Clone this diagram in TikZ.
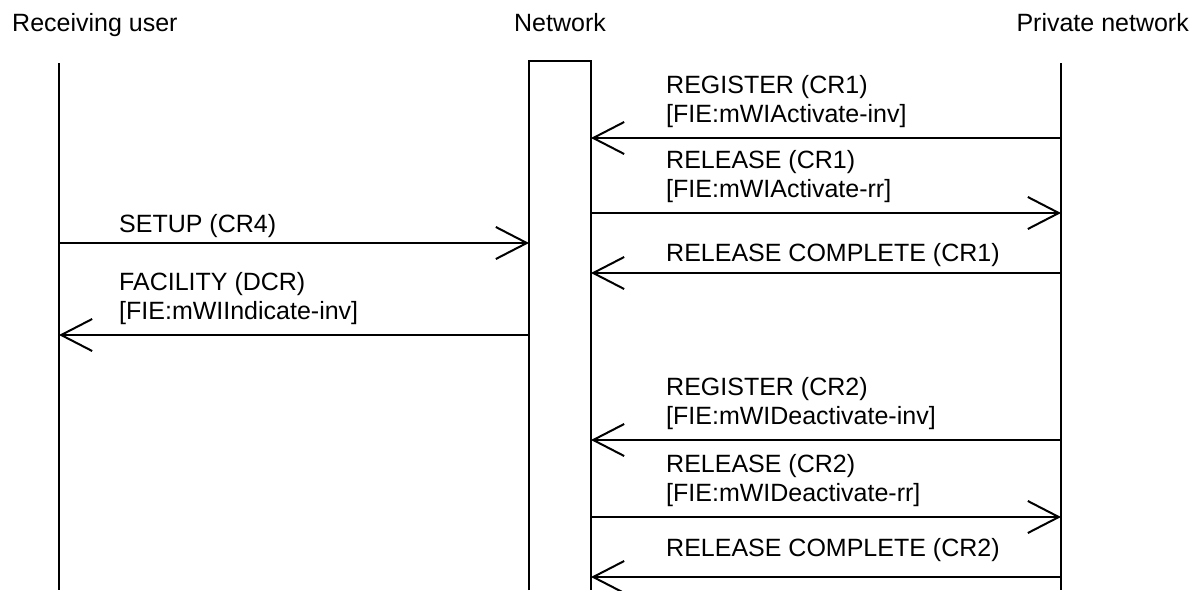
\documentclass[tikz,border=0pt]{standalone}
\usepackage{fontspec}
\setmainfont{Liberation Sans}
\usetikzlibrary{arrows.meta}
\begin{document}
\begin{tikzpicture}[x=1pt,y=-1pt,
  line/.style={line width=2pt},
  msg/.style={line width=2pt,-{Straight Barb[length=31pt,width=32pt,line width=2pt]}},
  lbl/.style={anchor=base west,inner sep=0pt,font=\fontsize{25}{29}\selectfont},
  hdr/.style={anchor=base,inner sep=0pt,font=\fontsize{25}{29}\selectfont}]
\useasboundingbox (0,0) rectangle (1201,590);
% headers
\node[hdr,anchor=base west] (hU) at (12,31) {Receiving user};
\node[hdr] (hN) at (560,31) {Network};
\node[hdr,anchor=base east] (hP) at (1189,31) {Private network};
% lifelines
\coordinate (uT) at (59,63); \coordinate (uB) at (59,590);
\coordinate (pT) at (1061,63); \coordinate (pB) at (1061,590);
\draw[line] (uT) -- (uB);
\draw[line] (pT) -- (pB);
\draw[line] (529,590) |- (591,61) -- (591,590);
% message end points
\foreach \y in {138,213,273,440,517,577}{
  \coordinate (nR\y) at (591,\y);
  \coordinate (p\y) at (1061,\y);
}
\foreach \y in {243,335}{
  \coordinate (nL\y) at (529,\y);
  \coordinate (u\y) at (59,\y);
}
% messages
\node[lbl] (m1a) at (666,93) {REGISTER (CR1)};
\node[lbl] (m1b) at (666,122) {[FIE:mWIActivate-inv]};
\draw[msg] (p138) -- (nR138);
\node[lbl] (m2a) at (666,168) {RELEASE (CR1)};
\node[lbl] (m2b) at (666,197) {[FIE:mWIActivate-rr]};
\draw[msg] (nR213) -- (p213);
\node[lbl] (m3a) at (119,232) {SETUP (CR4)};
\draw[msg] (u243) -- (nL243);
\node[lbl] (m4a) at (666,261) {RELEASE COMPLETE (CR1)};
\draw[msg] (p273) -- (nR273);
\node[lbl] (m5a) at (119,290) {FACILITY (DCR)};
\node[lbl] (m5b) at (119,319) {[FIE:mWIIndicate-inv]};
\draw[msg] (nL335) -- (u335);
\node[lbl] (m6a) at (666,395) {REGISTER (CR2)};
\node[lbl] (m6b) at (666,424) {[FIE:mWIDeactivate-inv]};
\draw[msg] (p440) -- (nR440);
\node[lbl] (m7a) at (666,472) {RELEASE (CR2)};
\node[lbl] (m7b) at (666,501) {[FIE:mWIDeactivate-rr]};
\draw[msg] (nR517) -- (p517);
\node[lbl] (m8a) at (666,556) {RELEASE COMPLETE (CR2)};
\draw[msg] (p577) -- (nR577);
\end{tikzpicture}
\end{document}
